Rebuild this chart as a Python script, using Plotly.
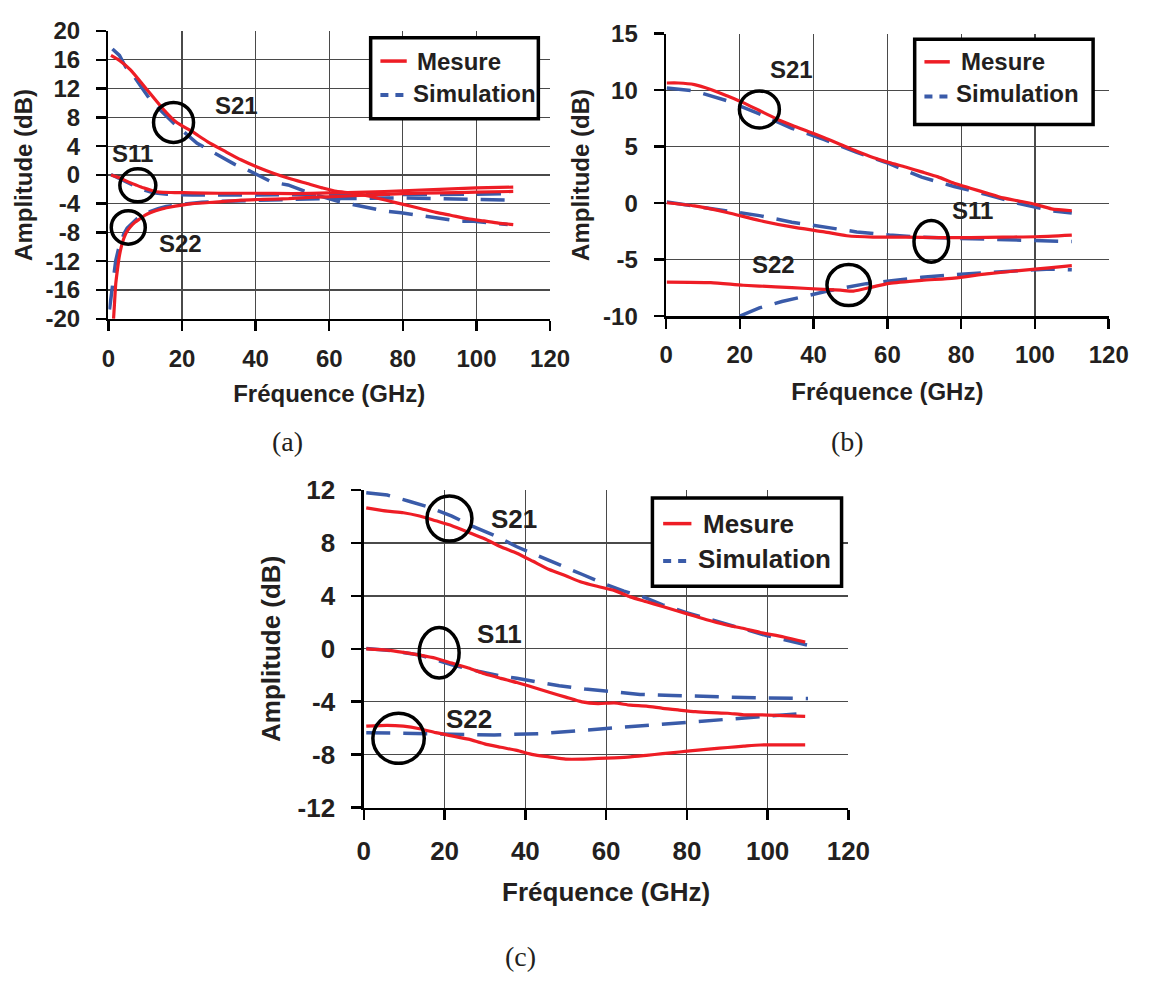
import plotly.graph_objects as go

W, H = 1158, 990

# ---------------- data: panel (a) ----------------
a_s21_mes_x = [0.7, 3, 6, 10.4, 14.8, 18.4, 22.8, 27, 31.6, 36, 40.4, 45, 49.2, 54, 58.1, 62, 66, 71.3, 76, 80.1, 85, 89, 93, 97.8, 102, 106, 110]
a_s21_mes_y = [16.6, 15.9, 14.6, 11.9, 9.2, 7.35, 6.0, 4.6, 3.3, 2.1, 1.1, 0.2, -0.5, -1.2, -1.8, -2.3, -2.5, -3.0, -3.6, -4.1, -4.7, -5.2, -5.6, -6.1, -6.4, -6.7, -6.9]
a_s21_sim_x = [1.1, 3.0, 4.7, 6.4, 9.1, 11.3, 14.5, 17.9, 24.1, 28.1, 34.2, 38.2, 44.4, 48.8, 54.6, 62.6, 68.2, 74.8, 79.5, 85.2, 88.9, 95.5, 99.3, 105.9, 108.5]
a_s21_sim_y = [17.5, 16.6, 15.0, 14.1, 12.1, 10.5, 8.8, 7.1, 4.4, 3.3, 1.5, 0.6, -1.0, -1.4, -2.5, -3.7, -4.35, -5.0, -5.25, -5.7, -6.0, -6.45, -6.45, -6.8, -6.9]
a_s11_mes_x = [0.7, 3, 5.1, 7.5, 9.5, 12, 13.9, 18, 22.8, 30, 40, 50, 60, 70, 80, 90, 100, 110]
a_s11_mes_y = [0.0, -0.4, -0.9, -1.4, -1.8, -2.2, -2.4, -2.45, -2.5, -2.55, -2.55, -2.6, -2.5, -2.4, -2.2, -2.0, -1.8, -1.7]
a_s11_sim_x = [0.7, 3, 5, 6.9, 9, 12.2, 16, 22.8, 30, 40, 50, 60, 70, 80, 90, 100, 110]
a_s11_sim_y = [0.05, -0.5, -1.0, -1.4, -2.0, -2.5, -2.7, -2.8, -2.8, -2.8, -2.8, -2.8, -2.8, -2.8, -2.75, -2.7, -2.6]
a_s22_mes_x = [1.4, 1.7, 2.0, 2.5, 2.9, 3.5, 4.2, 5, 6.0, 7.2, 8.6, 10, 11.7, 14, 16.6, 20, 22.8, 30, 36, 42, 49, 56, 62.5, 70, 80, 90, 100, 110]
a_s22_mes_y = [-20, -17.5, -15.1, -13, -11.5, -10, -8.8, -7.9, -7.2, -6.6, -6.1, -5.6, -5.2, -4.8, -4.5, -4.2, -4.0, -3.75, -3.5, -3.4, -3.3, -3.1, -3.0, -2.8, -2.6, -2.5, -2.4, -2.3]
a_s22_sim_x = [0.3, 0.7, 1.1, 1.5, 2.0, 2.7, 3.4, 4.2, 5.1, 6.4, 7.8, 9.5, 11.3, 13.5, 15.7, 20, 25.4, 32, 40.4, 50, 60, 70, 80, 90, 100, 110]
a_s22_sim_y = [-18.7, -17, -15.1, -13.4, -11.9, -10.4, -9.2, -8.2, -7.4, -6.7, -6.1, -5.6, -5.1, -4.7, -4.4, -4.1, -3.8, -3.65, -3.5, -3.4, -3.3, -3.25, -3.2, -3.3, -3.4, -3.5]

# ---------------- data: panel (b) ----------------
b_s21_mes_x = [0.2, 3.3, 7.7, 12.1, 16.5, 20.9, 25.3, 29.7, 34.1, 38.5, 42.9, 47.3, 51.7, 56.1, 60.5, 64.9, 69.3, 73.7, 78.1, 82.5, 86.9, 91.3, 95.7, 100.1, 104.5, 110]
b_s21_mes_y = [10.64, 10.64, 10.5, 10.07, 9.5, 8.9, 8.2, 7.5, 6.9, 6.35, 5.8, 5.2, 4.6, 4.05, 3.6, 3.2, 2.77, 2.33, 1.76, 1.33, 0.9, 0.47, 0.19, -0.1, -0.5, -0.67]
b_s21_sim_x = [0.2, 7.7, 16.5, 25.3, 34.1, 42.9, 51.7, 60.5, 69.3, 78.1, 86.9, 95.7, 104.5, 110]
b_s21_sim_y = [10.2, 9.93, 9.07, 7.9, 6.63, 5.63, 4.5, 3.5, 2.3, 1.48, 0.76, -0.04, -0.67, -0.87]
b_s11_mes_x = [0.2, 7.7, 16.5, 25.3, 34.1, 42.9, 49, 56.1, 64.9, 73.7, 82.5, 91.3, 100.1, 110]
b_s11_mes_y = [0.04, -0.24, -0.82, -1.53, -2.1, -2.54, -2.88, -3.0, -3.0, -3.05, -3.05, -3.0, -2.97, -2.82]
b_s11_sim_x = [0.2, 7.7, 16.5, 25.3, 34.1, 42.9, 51.7, 60.5, 69.3, 78.1, 86.9, 95.7, 104.5, 110]
b_s11_sim_y = [0.1, -0.24, -0.67, -1.1, -1.68, -2.1, -2.54, -2.82, -3.0, -3.1, -3.17, -3.25, -3.34, -3.4]
b_s22_mes_x = [0.2, 12.1, 20.9, 29.7, 38.5, 47.3, 50.8, 56.1, 60.5, 69.3, 78.1, 86.9, 95.7, 104.5, 110]
b_s22_mes_y = [-6.98, -7.03, -7.26, -7.4, -7.55, -7.7, -7.78, -7.4, -7.1, -6.83, -6.63, -6.26, -5.97, -5.7, -5.53]
b_s22_sim_x = [20, 25.3, 31.4, 36.7, 42.9, 47.3, 54.3, 60.5, 69.3, 78.1, 86.9, 95.7, 104.5, 110]
b_s22_sim_y = [-9.99, -9.27, -8.7, -8.27, -7.84, -7.55, -7.12, -6.89, -6.55, -6.32, -6.12, -5.97, -5.83, -5.9]

# ---------------- data: panel (c) ----------------
c_s21_mes_x = [0.6, 5.8, 9.8, 13.8, 17.8, 21.8, 25.9, 29.9, 33.9, 37.9, 41.9, 45.9, 50, 54, 58, 62, 66, 70, 74, 78.1, 82.1, 86.1, 90.1, 94.1, 98.2, 104, 109.3]
c_s21_mes_y = [10.66, 10.41, 10.29, 10.04, 9.68, 9.31, 8.82, 8.33, 7.72, 7.23, 6.62, 6.0, 5.52, 5.03, 4.71, 4.42, 3.93, 3.56, 3.2, 2.83, 2.46, 2.1, 1.78, 1.54, 1.24, 0.9, 0.51]
c_s21_sim_x = [0.6, 5.8, 11.4, 15.4, 21.8, 26.7, 32.3, 37.9, 43.5, 48.4, 54, 59.6, 64.4, 69.2, 74, 79.7, 84.5, 90.1, 94.9, 99.8, 110]
c_s21_sim_y = [11.8, 11.63, 11.14, 10.78, 10.04, 9.3, 8.58, 7.72, 6.99, 6.38, 5.64, 4.91, 4.37, 3.93, 3.32, 2.76, 2.34, 1.85, 1.49, 1.0, 0.27]
c_s11_mes_x = [0.6, 5.8, 9.8, 13.8, 17.8, 21.8, 25.9, 29.9, 33.9, 37.9, 41.9, 45.9, 50, 54, 58, 62, 66, 70, 74, 78.1, 82.1, 86.1, 90.1, 94.1, 98.2, 109.3]
c_s11_mes_y = [0.0, -0.1, -0.27, -0.47, -0.71, -1.08, -1.45, -1.89, -2.23, -2.55, -2.91, -3.28, -3.65, -4.01, -4.14, -4.09, -4.26, -4.33, -4.5, -4.63, -4.75, -4.82, -4.87, -4.99, -4.99, -5.1]
c_s11_sim_x = [0.6, 5.8, 13.8, 21.8, 28.3, 33.9, 37.9, 43.5, 48.4, 54.8, 62, 68.4, 76.5, 82.1, 90.1, 98.2, 110]
c_s11_sim_y = [0.02, -0.1, -0.47, -1.2, -1.69, -2.06, -2.23, -2.55, -2.79, -3.04, -3.28, -3.45, -3.52, -3.6, -3.65, -3.7, -3.76]
c_s22_mes_x = [0.6, 5.8, 9.8, 13.8, 17.8, 21.8, 25.9, 29.9, 33.9, 37.9, 41.9, 45.9, 50, 54, 58, 62, 66, 70, 74, 78.1, 82.1, 86.1, 90.1, 94.1, 98.2, 109.3]
c_s22_mes_y = [-5.85, -5.78, -5.85, -6.04, -6.34, -6.58, -6.83, -7.19, -7.44, -7.68, -8.0, -8.17, -8.34, -8.34, -8.29, -8.24, -8.17, -8.05, -7.93, -7.8, -7.68, -7.56, -7.46, -7.36, -7.27, -7.26]
c_s22_sim_x = [0.6, 9.8, 21.8, 32.3, 43.5, 54, 64.4, 74, 82.1, 90.1, 98.2, 110]
c_s22_sim_y = [-6.34, -6.39, -6.46, -6.51, -6.41, -6.17, -5.97, -5.73, -5.56, -5.36, -5.16, -4.86]

# ---------------- labels / ticks ----------------
x_ticks = [0, 20, 40, 60, 80, 100, 120]
x_ticktext = ["0", "20", "40", "60", "80", "100", "120"]
a_y_ticks = [-20, -16, -12, -8, -4, 0, 4, 8, 12, 16, 20]
b_y_ticks = [-10, -5, 0, 5, 10, 15]
c_y_ticks = [-12, -8, -4, 0, 4, 8, 12]
x_title = "Fréquence (GHz)"
y_title = "Amplitude (dB)"
legend_labels = ["Mesure", "Simulation"]
param_names = ["S21", "S11", "S22"]
panel_labels = ["(a)", "(b)", "(c)"]

a_label_pos = [(34.7, 9.6), (6.5, 3.0), (19.7, -9.6)]
b_label_pos = [(34.1, 11.8), (83.0, -0.65), (29.2, -5.42)]
c_label_pos = [(37.2, 9.82), (33.7, 1.09), (26.0, -5.27)]
a_circles = [(17.7, 7.3), (8.0, -1.45), (5.4, -7.3)]
b_circles = [(25.3, 8.3), (71.9, -3.38), (49.5, -7.25)]
c_circles = [(21.2, 9.85), (18.65, -0.29), (8.6, -6.77)]

# ---------------- styling ----------------
RED = "#ee1d25"
BLUE = "#3a5ba9"
TXT = "#231f20"
FONT = "Liberation Sans"

def px_x(p):
    return p / W

def px_y(p):
    return 1 - p / H

fig = go.Figure()

panels = [
    dict(ax="", xs=[a_s21_mes_x, a_s11_mes_x, a_s22_mes_x], ys=[a_s21_mes_y, a_s11_mes_y, a_s22_mes_y],
         sxs=[a_s21_sim_x, a_s11_sim_x, a_s22_sim_x], sys=[a_s21_sim_y, a_s11_sim_y, a_s22_sim_y]),
    dict(ax="2", xs=[b_s21_mes_x, b_s11_mes_x, b_s22_mes_x], ys=[b_s21_mes_y, b_s11_mes_y, b_s22_mes_y],
         sxs=[b_s21_sim_x, b_s11_sim_x, b_s22_sim_x], sys=[b_s21_sim_y, b_s11_sim_y, b_s22_sim_y]),
    dict(ax="3", xs=[c_s21_mes_x, c_s11_mes_x, c_s22_mes_x], ys=[c_s21_mes_y, c_s11_mes_y, c_s22_mes_y],
         sxs=[c_s21_sim_x, c_s11_sim_x, c_s22_sim_x], sys=[c_s21_sim_y, c_s11_sim_y, c_s22_sim_y]),
]

for p in panels:
    xa, ya = "x" + p["ax"], "y" + p["ax"]
    for k in range(3):
        fig.add_trace(go.Scatter(x=p["sxs"][k], y=p["sys"][k], mode="lines", xaxis=xa, yaxis=ya,
                                 line=dict(color=BLUE, width=3.5, dash="24px,13px"),
                                 name=legend_labels[1], showlegend=False))
    for k in range(3):
        fig.add_trace(go.Scatter(x=p["xs"][k], y=p["ys"][k], mode="lines", xaxis=xa, yaxis=ya,
                                 line=dict(color=RED, width=3.2, shape="spline", smoothing=0.6),
                                 name=legend_labels[0], showlegend=False))

# panel geometry (pixels): left, right, top, bottom
geom = [
    (104, 557, 16.5, 313.3),
    (676, 1130, 19.3, 310.6),
    (366, 863, 490, 817.3),
]
fsz = [24, 24, 26]
yticks = [a_y_ticks, b_y_ticks, c_y_ticks]
yranges = [[-20, 20], [-10, 15], [-12, 12]]
# (x ticklabel standoff, y ticklabel standoff, x title standoff, y title standoff)
tstand = [(7, 11, 14, 6), (6, 11, 16, 7), (9, 11, 18, 10)]

layout = dict(width=W, height=H, margin=dict(l=0, r=0, t=0, b=0), autosize=False,
              plot_bgcolor="white", paper_bgcolor="white", showlegend=False,
              font=dict(family=FONT, color=TXT))

for i, (l, r, t, b) in enumerate(geom):
    sfx = "" if i == 0 else str(i + 1)
    f = dict(family=FONT, size=fsz[i], color=TXT, weight="bold")
    xst, yst, xtit, ytit = tstand[i]
    layout["xaxis" + sfx] = dict(
        domain=[px_x(l), px_x(r)], anchor="y" + sfx, range=[0, 120],
        tickmode="array", tickvals=x_ticks, ticktext=x_ticktext,
        showgrid=True, gridcolor="#4a4a4a", gridwidth=1.2, zeroline=False,
        showline=True, linecolor="black", linewidth=2.5,
        ticks="outside", ticklen=10, tickwidth=2.5, tickcolor="black",
        tickfont=f, ticklabelstandoff=xst,
        title=dict(text=x_title, font=f, standoff=xtit), fixedrange=True)
    yt = yticks[i]
    layout["yaxis" + sfx] = dict(
        domain=[px_y(b), px_y(t)], anchor="x" + sfx, range=yranges[i],
        tickmode="array", tickvals=yt, ticktext=[str(v) for v in yt],
        showgrid=True, gridcolor="#4a4a4a", gridwidth=1.2, zeroline=False,
        showline=True, linecolor="black", linewidth=2.5,
        ticks="outside", ticklen=10, tickwidth=2.5, tickcolor="black",
        tickfont=f, ticklabelstandoff=yst,
        title=dict(text=y_title, font=f, standoff=ytit), fixedrange=True)

fig.update_layout(**layout)

shapes = []
annotations = []

# S-parameter labels and circles
label_sets = [a_label_pos, b_label_pos, c_label_pos]
circle_sets = [a_circles, b_circles, c_circles]
circle_r = [[(20, 20), (18, 16.5), (17, 16.7)],
            [(20, 18.5), (17.3, 20.8), (21.7, 20.5)],
            [(22.5, 22.5), (20, 25.3), (25.7, 25)]]
for i in range(3):
    sfx = "" if i == 0 else str(i + 1)
    for k in range(3):
        lx, ly = label_sets[i][k]
        annotations.append(dict(x=lx, y=ly, xref="x" + sfx, yref="y" + sfx, text=param_names[k],
                                showarrow=False, font=dict(family=FONT, size=fsz[i], color=TXT, weight="bold")))
        cx, cy = circle_sets[i][k]
        rx, ry = circle_r[i][k]
        shapes.append(dict(type="circle", xref="x" + sfx, yref="y" + sfx, xsizemode="pixel", ysizemode="pixel",
                           xanchor=cx, yanchor=cy, x0=-rx, x1=rx, y0=-ry, y1=ry,
                           line=dict(color="black", width=3.5)))

# legend boxes (drawn in pixel positions)
legends = [
    dict(box=(373, 545, 23.5, 107), red=(383, 410, 47.5), txt1=(418, 48), blue=(383, 407, 82.5), txt2=(414, 81), fs=24),
    dict(box=(931, 1114, 25, 113), red=(941, 967, 48.3), txt1=(976, 48.3), blue=(941, 965, 84), txt2=(971, 81), fs=24),
    dict(box=(662, 856, 498, 589), red=(673, 702, 524.5), txt1=(712, 525), blue=(673, 698, 563), txt2=(707, 561), fs=26),
]
for lg in legends:
    x0, x1, y0, y1 = lg["box"]
    shapes.append(dict(type="rect", xref="paper", yref="paper", x0=px_x(x0), x1=px_x(x1), y0=px_y(y1), y1=px_y(y0),
                       line=dict(color="black", width=3.5), fillcolor="white", layer="above"))
    a, bb, yy = lg["red"]
    shapes.append(dict(type="line", xref="paper", yref="paper", x0=px_x(a), x1=px_x(bb), y0=px_y(yy), y1=px_y(yy),
                       line=dict(color=RED, width=3.5)))
    a, bb, yy = lg["blue"]
    shapes.append(dict(type="line", xref="paper", yref="paper", x0=px_x(a), x1=px_x(bb), y0=px_y(yy), y1=px_y(yy),
                       line=dict(color=BLUE, width=4, dash="8px,7px")))
    for txt, pos in [(legend_labels[0], lg["txt1"]), (legend_labels[1], lg["txt2"])]:
        annotations.append(dict(x=px_x(pos[0]), y=px_y(pos[1]), xref="paper", yref="paper", text=txt,
                                xanchor="left", yanchor="middle", showarrow=False,
                                font=dict(family=FONT, size=lg["fs"], color=TXT, weight="bold")))

# panel labels
for txt, (px_, py_) in zip(panel_labels, [(288, 440), (862, 440), (527, 971)]):
    annotations.append(dict(x=px_x(px_), y=px_y(py_), xref="paper", yref="paper", text=txt, showarrow=False,
                            xanchor="center", yanchor="middle",
                            font=dict(family="Liberation Serif", size=28, color=TXT)))

fig.update_layout(shapes=shapes, annotations=annotations)
fig.write_html("out.html",
               config={"displayModeBar": False, "staticPlot": True},
               post_script="document.body.style.margin='0px';document.body.style.padding='0px';"
                           "document.body.style.overflow='hidden';")
